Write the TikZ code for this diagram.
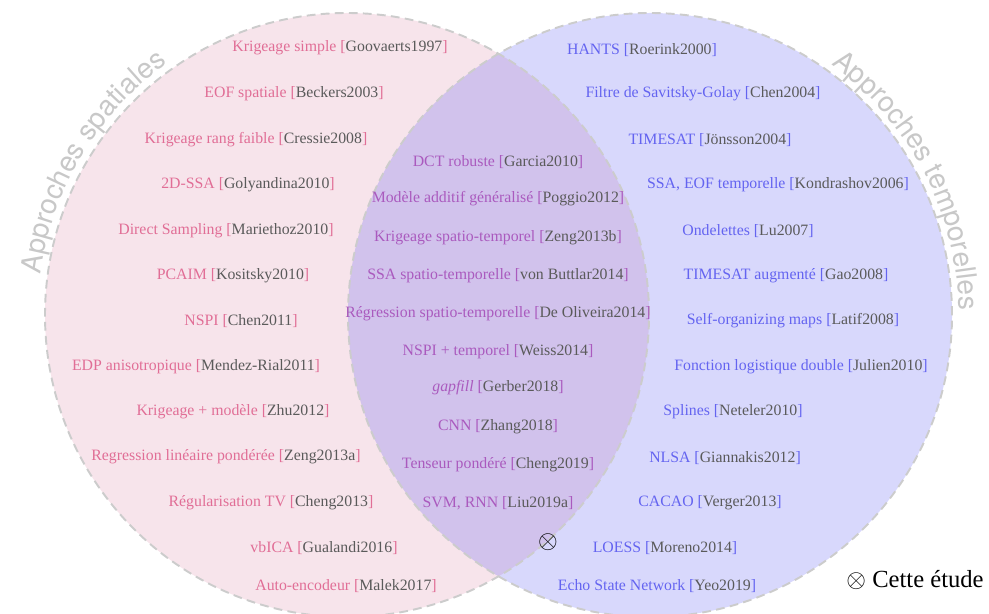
\documentclass[tikz,border=0pt]{standalone}
\usepackage{fontspec}
\setmainfont{Liberation Serif}
\setsansfont{TeX Gyre Heros}
\usetikzlibrary{decorations.text}

\definecolor{spfill}{RGB}{247,228,235}
\definecolor{tpfill}{RGB}{77,77,241}
\definecolor{sptext}{RGB}{225,110,150}
\definecolor{tptext}{RGB}{100,100,240}
\definecolor{sttext}{RGB}{170,90,190}
\definecolor{refgray}{RGB}{90,90,90}
\definecolor{labgray}{RGB}{200,200,200}
\newcommand{\bib}[1]{[{\color{refgray}#1}]}

\begin{document}
\begin{tikzpicture}[x=0.02cm, y=0.02cm,
  item/.style={font=\fontsize{9}{10}\selectfont, inner sep=0pt},
  spat/.style={item, text=sptext},
  temp/.style={item, text=tptext},
  both/.style={item, text=sttext},
  border/.style={draw=black!20, line width=1.1pt, dash pattern=on 5pt off 3pt}]
\useasboundingbox (0,0) rectangle (989,-614);
\coordinate (L) at (347,-315);
\coordinate (T) at (650,-315);

\fill[spfill] (L) circle (302);
\fill[tpfill, fill opacity=.22] (T) circle (302);
\draw[border] (L) circle (302) (T) circle (302);

\path[decorate, decoration={text along path, text align=center, text color=labgray,
  text={|\sffamily\fontsize{16}{16}\selectfont|Approches spatiales}}]
  (L) ++(181:309) arc (181:117:309);
\path[decorate, decoration={text along path, text align=center, text color=labgray,
  text={|\sffamily\fontsize{16}{16}\selectfont|Approches temporelles}}]
  (T) ++(60:309) arc (60:-5:309);

% spatial
\node[spat] (s1) at (340,-48) {Krigeage simple \bib{Goovaerts1997}};
\node[spat] (s2) at (294,-94) {EOF spatiale \bib{Beckers2003}};
\node[spat] (s3) at (256,-140) {Krigeage rang faible \bib{Cressie2008}};
\node[spat] (s4) at (248,-185) {2D-SSA \bib{Golyandina2010}};
\node[spat] (s5) at (226,-231) {Direct Sampling \bib{Mariethoz2010}};
\node[spat] (s6) at (233,-276) {PCAIM \bib{Kositsky2010}};
\node[spat] (s7) at (241,-321) {NSPI \bib{Chen2011}};
\node[spat] (s8) at (196,-367) {EDP anisotropique \bib{Mendez-Rial2011}};
\node[spat] (s9) at (233,-412) {Krigeage + modèle \bib{Zhu2012}};
\node[spat] (s10) at (226,-457) {Regression linéaire pondérée \bib{Zeng2013a}};
\node[spat] (s11) at (271,-503) {Régularisation TV \bib{Cheng2013}};
\node[spat] (s12) at (324,-548) {vbICA \bib{Gualandi2016}};
\node[spat] (s13) at (346,-586) {Auto-encodeur \bib{Malek2017}};

% spatio-temporal
\node[both] (b1) at (498,-162) {DCT robuste \bib{Garcia2010}};
\node[both] (b2) at (498,-199) {Modèle additif généralisé \bib{Poggio2012}};
\node[both] (b3) at (498,-238) {Krigeage spatio-temporel \bib{Zeng2013b}};
\node[both] (b4) at (498,-276) {SSA spatio-temporelle \bib{von Buttlar2014}};
\node[both] (b5) at (498,-314) {Régression spatio-temporelle \bib{De Oliveira2014}};
\node[both] (b6) at (498,-352) {NSPI + temporel \bib{Weiss2014}};
\node[both] (b7) at (498,-388) {\textit{gapfill} \bib{Gerber2018}};
\node[both] (b8) at (498,-427) {CNN \bib{Zhang2018}};
\node[both] (b9) at (498,-465) {Tenseur pondéré \bib{Cheng2019}};
\node[both] (b10) at (498,-503) {SVM, RNN \bib{Liu2019a}};
\node[inner sep=0pt, font=\fontsize{14}{14}\selectfont] (here) at (548,-542) {$\otimes$};

% temporal
\node[temp] (t1) at (642,-50) {HANTS \bib{Roerink2000}};
\node[temp] (t2) at (703,-94) {Filtre de Savitsky-Golay \bib{Chen2004}};
\node[temp] (t3) at (710,-140) {TIMESAT \bib{Jönsson2004}};
\node[temp] (t4) at (778,-185) {SSA, EOF temporelle \bib{Kondrashov2006}};
\node[temp] (t5) at (748,-231) {Ondelettes \bib{Lu2007}};
\node[temp] (t6) at (786,-276) {TIMESAT augmenté \bib{Gao2008}};
\node[temp] (t7) at (793,-321) {Self-organizing maps \bib{Latif2008}};
\node[temp] (t8) at (801,-367) {Fonction logistique double \bib{Julien2010}};
\node[temp] (t9) at (733,-412) {Splines \bib{Neteler2010}};
\node[temp] (t10) at (725,-458) {NLSA \bib{Giannakis2012}};
\node[temp] (t11) at (710,-503) {CACAO \bib{Verger2013}};
\node[temp] (t12) at (665,-548) {LOESS \bib{Moreno2014}};
\node[temp] (t13) at (657,-586) {Echo State Network \bib{Yeo2019}};

\node[inner sep=0pt, font=\fontsize{14}{14}\selectfont] (legend) at (915,-580) {$\otimes$ Cette étude};
\end{tikzpicture}
\end{document}
